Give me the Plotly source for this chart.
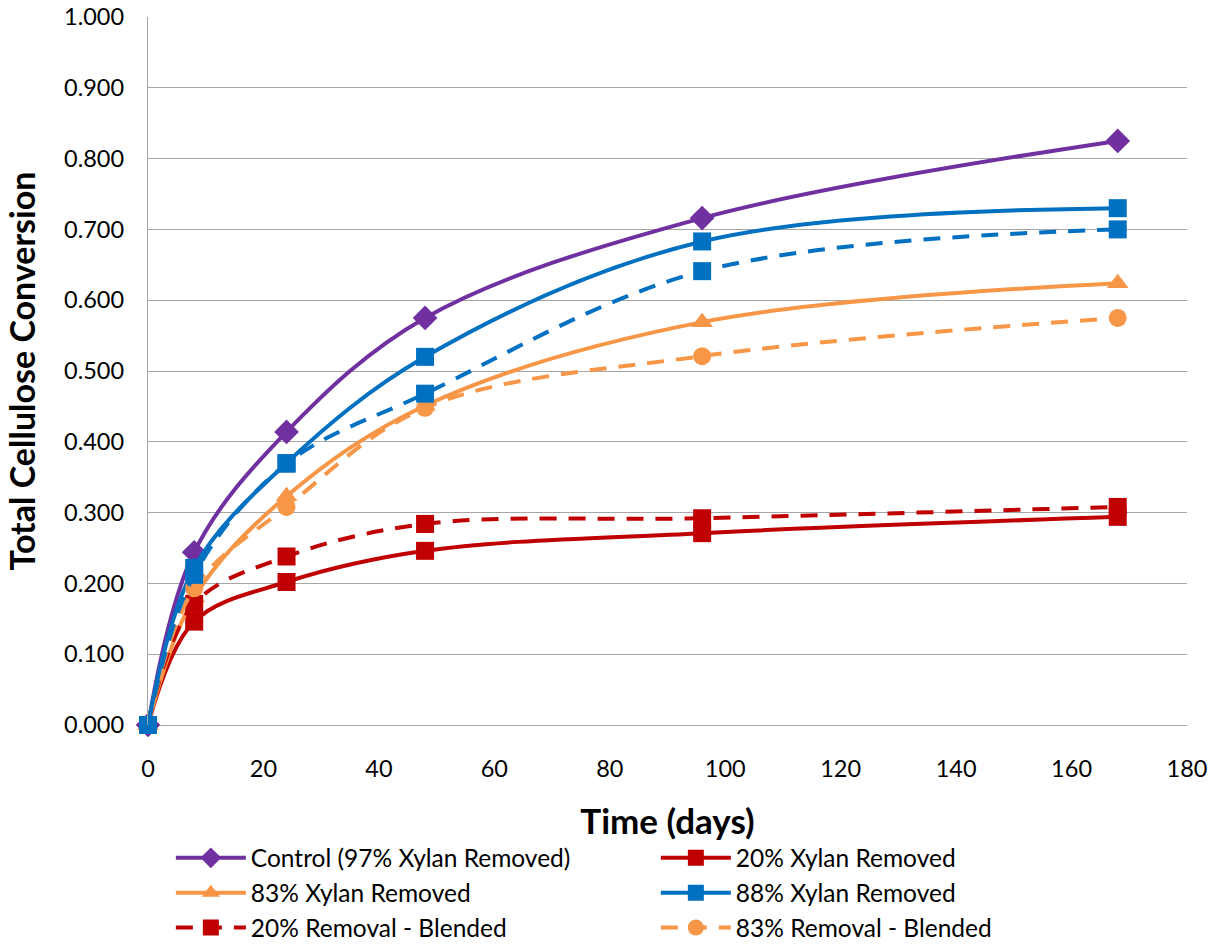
import plotly.graph_objects as go

# ---- data ----
time_h = [0, 8, 24, 48, 96, 168]

control_97 = [0.000, 0.244, 0.414, 0.575, 0.716, 0.825]
xylan_20 = [0.000, 0.146, 0.202, 0.246, 0.271, 0.294]
xylan_83 = [0.000, 0.180, 0.323, 0.451, 0.569, 0.624]
xylan_88 = [0.000, 0.222, 0.370, 0.520, 0.683, 0.730]
blend_20 = [0.000, 0.171, 0.238, 0.284, 0.292, 0.308]
blend_83 = [0.000, 0.193, 0.308, 0.448, 0.521, 0.575]
blend_88 = [0.000, 0.212, 0.369, 0.468, 0.641, 0.700]

x_ticks = [0, 20, 40, 60, 80, 100, 120, 140, 160, 180]
y_ticks = [0.0, 0.1, 0.2, 0.3, 0.4, 0.5, 0.6, 0.7, 0.8, 0.9, 1.0]

PURPLE = "#7030A0"
RED = "#C00000"
ORANGE = "#F79646"
BLUE = "#0070C0"
FONT = "Lato"

series = [
    ("Control (97% Xylan Removed)", control_97, PURPLE, "solid", "diamond", 19, True),
    ("20% Xylan Removed", xylan_20, RED, "solid", "square", 18, True),
    ("83% Xylan Removed", xylan_83, ORANGE, "solid", "triangle-up", 19, True),
    ("88% Xylan Removed", xylan_88, BLUE, "solid", "square", 18, True),
    ("20% Removal - Blended", blend_20, RED, "17px,12px", "square", 18, True),
    ("83% Removal - Blended", blend_83, ORANGE, "17px,12px", "circle", 18, True),
    ("88% Removal - Blended", blend_88, BLUE, "17px,12px", "square", 18, False),
]

fig = go.Figure()
for name, vals, color, dash, sym, size, show in series:
    fig.add_trace(go.Scatter(
        x=time_h, y=vals, name=name, mode="lines+markers",
        line=dict(color=color, width=4, dash=dash, shape="spline", smoothing=1.0),
        marker=dict(symbol=sym, size=size, color=color),
        showlegend=show, cliponaxis=False,
    ))

fig.update_layout(
    width=1212, height=945,
    margin=dict(l=148, r=25, t=17, b=220, autoexpand=False),
    paper_bgcolor="white", plot_bgcolor="white",
    font=dict(family=FONT, color="#000000"),
    showlegend=True,
    legend=dict(
        orientation="h", x=0.022, y=-0.156, xanchor="left", yanchor="top",
        font=dict(family=FONT, size=24.5, color="#000000"),
        itemwidth=70, entrywidth=400, entrywidthmode="pixels",
        bgcolor="rgba(0,0,0,0)", traceorder="normal",
    ),
    xaxis=dict(
        range=[0, 180], tickvals=x_ticks, ticktext=[str(v) for v in x_ticks],
        showgrid=False, zeroline=False, showline=False, ticks="",
        tickfont=dict(family=FONT, size=23.5, color="#000000"),
        ticklabelstandoff=27,
        title=dict(text="<b>Time (days)</b>", font=dict(family=FONT, size=35, color="#000000"),
                   standoff=28),
    ),
    yaxis=dict(
        range=[0, 1.0], tickvals=y_ticks, ticktext=[f"{v:.3f}" for v in y_ticks],
        showgrid=True, gridcolor="#A6A6A6", gridwidth=1.3,
        zeroline=True, zerolinecolor="#A6A6A6", zerolinewidth=1.3,
        showline=True, linecolor="#A6A6A6", linewidth=1.3, ticks="",
        tickfont=dict(family=FONT, size=23.5, color="#000000"),
        ticklabelstandoff=18,
        title=dict(text="<b>Total Cellulose Conversion</b>",
                   font=dict(family=FONT, size=34, color="#000000"), standoff=18),
    ),
)

fig.write_html("out.html")
